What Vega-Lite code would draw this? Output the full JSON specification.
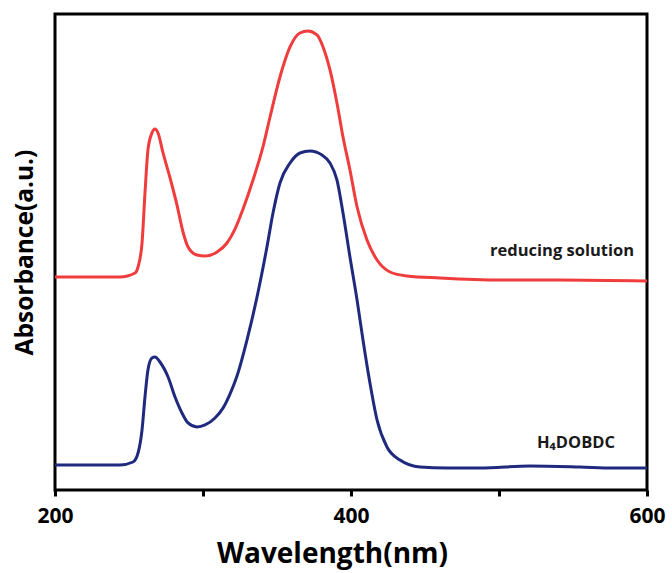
{
  "$schema": "https://vega.github.io/schema/vega-lite/v6.json",
  "width": 592,
  "height": 476,
  "autosize": {"type": "none"},
  "padding": {"left": 55, "top": 14, "right": 25, "bottom": 83},
  "background": "white",
  "config": {
    "view": {"stroke": "black", "strokeWidth": 3},
    "font": "Open Sans"
  },
  "datasets": {
    "spectra": [
      {"wl": 200.0, "abs": 0.4475, "sample": "reducing solution"},
      {"wl": 230.4, "abs": 0.4475, "sample": "reducing solution"},
      {"wl": 243.9, "abs": 0.4475, "sample": "reducing solution"},
      {"wl": 254.1, "abs": 0.4559, "sample": "reducing solution"},
      {"wl": 256.1, "abs": 0.4685, "sample": "reducing solution"},
      {"wl": 258.8, "abs": 0.5189, "sample": "reducing solution"},
      {"wl": 260.8, "abs": 0.6239, "sample": "reducing solution"},
      {"wl": 262.8, "abs": 0.7143, "sample": "reducing solution"},
      {"wl": 265.5, "abs": 0.7500, "sample": "reducing solution"},
      {"wl": 267.6, "abs": 0.7584, "sample": "reducing solution"},
      {"wl": 269.6, "abs": 0.7500, "sample": "reducing solution"},
      {"wl": 273.0, "abs": 0.7080, "sample": "reducing solution"},
      {"wl": 277.7, "abs": 0.6560, "sample": "reducing solution"},
      {"wl": 282.4, "abs": 0.5990, "sample": "reducing solution"},
      {"wl": 286.5, "abs": 0.5420, "sample": "reducing solution"},
      {"wl": 289.9, "abs": 0.5105, "sample": "reducing solution"},
      {"wl": 295.9, "abs": 0.4937, "sample": "reducing solution"},
      {"wl": 301.4, "abs": 0.4916, "sample": "reducing solution"},
      {"wl": 309.5, "abs": 0.5000, "sample": "reducing solution"},
      {"wl": 316.2, "abs": 0.5189, "sample": "reducing solution"},
      {"wl": 321.6, "abs": 0.5480, "sample": "reducing solution"},
      {"wl": 327.0, "abs": 0.5900, "sample": "reducing solution"},
      {"wl": 333.8, "abs": 0.6513, "sample": "reducing solution"},
      {"wl": 340.5, "abs": 0.7206, "sample": "reducing solution"},
      {"wl": 345.3, "abs": 0.7836, "sample": "reducing solution"},
      {"wl": 352.0, "abs": 0.8676, "sample": "reducing solution"},
      {"wl": 358.8, "abs": 0.9307, "sample": "reducing solution"},
      {"wl": 365.5, "abs": 0.9601, "sample": "reducing solution"},
      {"wl": 370.9, "abs": 0.9643, "sample": "reducing solution"},
      {"wl": 377.0, "abs": 0.9559, "sample": "reducing solution"},
      {"wl": 381.1, "abs": 0.9307, "sample": "reducing solution"},
      {"wl": 385.8, "abs": 0.8824, "sample": "reducing solution"},
      {"wl": 390.5, "abs": 0.8130, "sample": "reducing solution"},
      {"wl": 394.6, "abs": 0.7416, "sample": "reducing solution"},
      {"wl": 399.3, "abs": 0.6723, "sample": "reducing solution"},
      {"wl": 404.1, "abs": 0.5945, "sample": "reducing solution"},
      {"wl": 410.8, "abs": 0.5252, "sample": "reducing solution"},
      {"wl": 417.6, "abs": 0.4832, "sample": "reducing solution"},
      {"wl": 426.4, "abs": 0.4580, "sample": "reducing solution"},
      {"wl": 437.8, "abs": 0.4496, "sample": "reducing solution"},
      {"wl": 460.1, "abs": 0.4454, "sample": "reducing solution"},
      {"wl": 500.7, "abs": 0.4412, "sample": "reducing solution"},
      {"wl": 541.2, "abs": 0.4412, "sample": "reducing solution"},
      {"wl": 600.0, "abs": 0.4391, "sample": "reducing solution"},

      {"wl": 200.0, "abs": 0.0525, "sample": "H4DOBDC"},
      {"wl": 230.4, "abs": 0.0525, "sample": "H4DOBDC"},
      {"wl": 243.9, "abs": 0.0525, "sample": "H4DOBDC"},
      {"wl": 252.7, "abs": 0.0588, "sample": "H4DOBDC"},
      {"wl": 256.1, "abs": 0.0777, "sample": "H4DOBDC"},
      {"wl": 258.8, "abs": 0.1261, "sample": "H4DOBDC"},
      {"wl": 260.8, "abs": 0.1954, "sample": "H4DOBDC"},
      {"wl": 262.8, "abs": 0.2521, "sample": "H4DOBDC"},
      {"wl": 265.5, "abs": 0.2773, "sample": "H4DOBDC"},
      {"wl": 267.6, "abs": 0.2794, "sample": "H4DOBDC"},
      {"wl": 270.9, "abs": 0.2689, "sample": "H4DOBDC"},
      {"wl": 276.4, "abs": 0.2374, "sample": "H4DOBDC"},
      {"wl": 281.1, "abs": 0.1954, "sample": "H4DOBDC"},
      {"wl": 285.8, "abs": 0.1618, "sample": "H4DOBDC"},
      {"wl": 289.9, "abs": 0.1408, "sample": "H4DOBDC"},
      {"wl": 295.9, "abs": 0.1324, "sample": "H4DOBDC"},
      {"wl": 301.4, "abs": 0.1366, "sample": "H4DOBDC"},
      {"wl": 308.1, "abs": 0.1513, "sample": "H4DOBDC"},
      {"wl": 313.5, "abs": 0.1720, "sample": "H4DOBDC"},
      {"wl": 318.0, "abs": 0.2000, "sample": "H4DOBDC"},
      {"wl": 322.8, "abs": 0.2380, "sample": "H4DOBDC"},
      {"wl": 329.7, "abs": 0.3151, "sample": "H4DOBDC"},
      {"wl": 336.5, "abs": 0.4055, "sample": "H4DOBDC"},
      {"wl": 343.2, "abs": 0.5105, "sample": "H4DOBDC"},
      {"wl": 347.3, "abs": 0.5819, "sample": "H4DOBDC"},
      {"wl": 352.0, "abs": 0.6450, "sample": "H4DOBDC"},
      {"wl": 358.8, "abs": 0.6870, "sample": "H4DOBDC"},
      {"wl": 365.5, "abs": 0.7080, "sample": "H4DOBDC"},
      {"wl": 372.3, "abs": 0.7122, "sample": "H4DOBDC"},
      {"wl": 380.4, "abs": 0.7038, "sample": "H4DOBDC"},
      {"wl": 385.8, "abs": 0.6870, "sample": "H4DOBDC"},
      {"wl": 390.5, "abs": 0.6513, "sample": "H4DOBDC"},
      {"wl": 394.6, "abs": 0.5819, "sample": "H4DOBDC"},
      {"wl": 399.3, "abs": 0.4895, "sample": "H4DOBDC"},
      {"wl": 404.1, "abs": 0.3992, "sample": "H4DOBDC"},
      {"wl": 408.1, "abs": 0.3151, "sample": "H4DOBDC"},
      {"wl": 412.8, "abs": 0.2248, "sample": "H4DOBDC"},
      {"wl": 417.6, "abs": 0.1471, "sample": "H4DOBDC"},
      {"wl": 424.3, "abs": 0.0903, "sample": "H4DOBDC"},
      {"wl": 433.1, "abs": 0.0630, "sample": "H4DOBDC"},
      {"wl": 446.6, "abs": 0.0483, "sample": "H4DOBDC"},
      {"wl": 464.9, "abs": 0.0462, "sample": "H4DOBDC"},
      {"wl": 487.2, "abs": 0.0462, "sample": "H4DOBDC"},
      {"wl": 520.9, "abs": 0.0504, "sample": "H4DOBDC"},
      {"wl": 554.7, "abs": 0.0483, "sample": "H4DOBDC"},
      {"wl": 577.0, "abs": 0.0462, "sample": "H4DOBDC"},
      {"wl": 600.0, "abs": 0.0462, "sample": "H4DOBDC"}
    ],
    "labels": [
      {"wl": 542.6, "abs": 0.502, "text": "reducing solution"},
      {"wl": 552.0, "abs": 0.099, "text": "H₄DOBDC"}
    ]
  },
  "layer": [
    {
      "data": {"name": "spectra"},
      "mark": {"type": "line", "strokeWidth": 3, "interpolate": "monotone"},
      "encoding": {
        "x": {
          "field": "wl",
          "type": "quantitative",
          "scale": {"domain": [200, 600], "nice": false},
          "axis": {
            "title": "Wavelength(nm)",
            "values": [200, 300, 400, 500, 600],
            "labelExpr": "datum.value % 200 === 0 ? datum.label : ''",
            "domain": false,
            "grid": false,
            "ticks": true,
            "tickColor": "black",
            "tickWidth": 3,
            "tickSize": 6,
            "labelFontSize": 21,
            "labelFontWeight": "bold",
            "labelColor": "black",
            "labelPadding": 9,
            "labelFlush": false,
            "titleFontSize": 28,
            "titleFontWeight": "bold",
            "titleColor": "black",
            "titleX": 277,
            "titleAlign": "center",
            "titlePadding": 14
          }
        },
        "y": {
          "field": "abs",
          "type": "quantitative",
          "scale": {"domain": [0, 1], "nice": false},
          "axis": {
            "title": "Absorbance(a.u.)",
            "domain": false,
            "grid": false,
            "ticks": false,
            "labels": false,
            "titleFontSize": 24.5,
            "titleFontWeight": "bold",
            "titleColor": "black",
            "titlePadding": 18
          }
        },
        "color": {
          "field": "sample",
          "type": "nominal",
          "scale": {"domain": ["reducing solution", "H4DOBDC"], "range": ["#f03c3c", "#1f2a7e"]},
          "legend": null
        },
        "detail": {"field": "sample"}
      }
    },
    {
      "data": {"name": "labels"},
      "mark": {"type": "text", "fontSize": 16.5, "fontWeight": "bold", "color": "#1a1a1a", "align": "center", "baseline": "middle"},
      "encoding": {
        "x": {"field": "wl", "type": "quantitative"},
        "y": {"field": "abs", "type": "quantitative"},
        "text": {"field": "text"}
      }
    }
  ]
}
